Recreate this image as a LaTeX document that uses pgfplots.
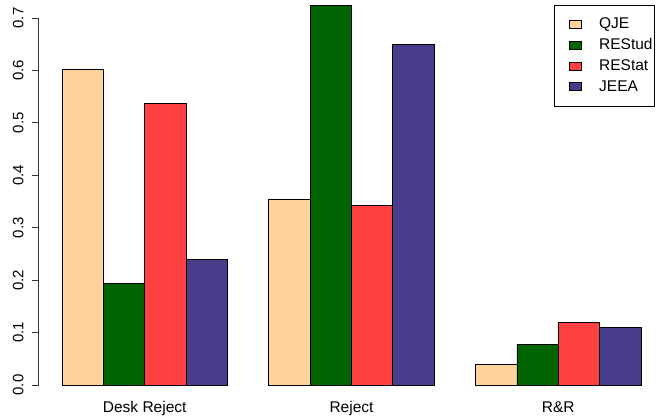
\documentclass[border=0pt]{standalone}
\usepackage{fontspec}
\setmainfont{Liberation Sans}
\usepackage{pgfplots}
\pgfplotsset{compat=1.18}
\definecolor{cQJE}{HTML}{FFD39B}
\definecolor{cRES}{HTML}{006400}
\definecolor{cRST}{HTML}{FF4040}
\definecolor{cJEE}{HTML}{483D8B}
\pgfplotsset{
  leg/.style={legend image code/.code={%
    \draw[draw=black, fill=#1, line width=0.7bp] (0bp,-4bp) rectangle (12bp,4bp);
    \path (-13bp,0bp) (29bp,0bp);}},
}
\begin{document}
\fontsize{15.5bp}{18bp}\selectfont
\begin{tikzpicture}
\path[use as bounding box] (-38.8bp,-34bp) rectangle (620.2bp,385bp);
\begin{axis}[
  scale only axis,
  width=621.2bp, height=367bp,
  xmin=0.44, xmax=15.46,
  ymin=0, ymax=0.7,
  clip=false,
  axis y line*=left,
  axis x line*=bottom,
  x axis line style={draw=none},
  xtick={3,8,13},
  xticklabels={Desk Reject,Reject,R\&R},
  xtick style={draw=none},
  xticklabel style={anchor=north, inner sep=0pt, text height=11.1bp, yshift=-9.2bp},
  ytick={0,0.1,0.2,0.3,0.4,0.5,0.6,0.7},
  tick align=outside,
  major tick length=6.5bp,
  ytick style={black!80, line width=0.9bp},
  y axis line style={black!80, line width=0.9bp, -},
  /pgf/number format/assume math mode=true,
  yticklabel style={xshift=-8.5bp, rotate=90, anchor=south, inner sep=0pt,
    font=\fontsize{15bp}{18bp}\selectfont,
    /pgf/number format/.cd, fixed, fixed zerofill, precision=1},
  legend style={at={(616.2bp,380bp)}, anchor=north east, draw=black, line width=0.8bp,
    inner xsep=2bp, inner ysep=9bp, row sep=0pt, column sep=0pt,
    nodes={inner xsep=0bp, inner ysep=0pt, minimum height=20.7bp, anchor=west},
    legend cell align=left},
  every axis plot/.append style={ybar, bar width=1, bar shift=0pt, draw=black, line width=0.75bp},
]
\addplot[fill=cQJE, leg=cQJE] coordinates {(1.5,0.602) (6.5,0.355) (11.5,0.040)};
\addplot[fill=cRES, leg=cRES] coordinates {(2.5,0.193) (7.5,0.724) (12.5,0.078)};
\addplot[fill=cRST, leg=cRST] coordinates {(3.5,0.537) (8.5,0.342) (13.5,0.120)};
\addplot[fill=cJEE, leg=cJEE] coordinates {(4.5,0.239) (9.5,0.650) (14.5,0.109)};
\legend{QJE,REStud,REStat,JEEA}
\end{axis}
\end{tikzpicture}
\end{document}
